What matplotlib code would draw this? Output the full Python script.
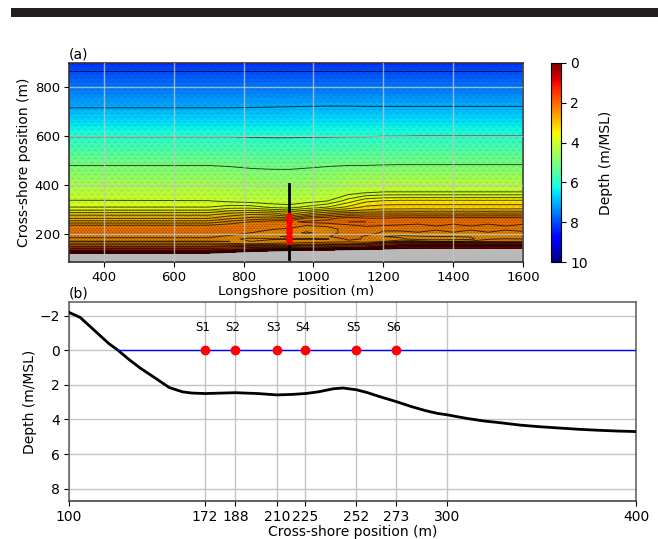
import numpy as np
import matplotlib
matplotlib.use('Agg')
import matplotlib.pyplot as plt
import matplotlib.tri as mtri
from matplotlib.cm import ScalarMappable
from matplotlib.colors import Normalize
from matplotlib.patches import Rectangle

# map of depth, one profile per longshore station
cross_rows = [86, 112, 125, 135, 150, 160, 170, 180, 190, 205, 220, 235, 250, 265, 280, 295, 310, 335, 370, 480, 597, 715, 865, 900]
longshore = [300, 700, 760, 820, 880, 930, 980, 1040, 1100, 1150, 1200, 1250, 1300, 1350, 1400, 1450, 1500, 1550, 1600]

p300 = [-1, -0.4, 0.4, 1.0, 2.0, 2.3, 2.62, 2.45, 2.35, 2.25, 2.25, 2.38, 2.72, 3.02, 3.25, 3.55, 3.8, 3.98, 4.22, 5.0, 6.0, 7.0, 8.0, 8.3]
p700 = [-1, -0.4, 0.4, 1.0, 2.0, 2.3, 2.62, 2.45, 2.35, 2.25, 2.25, 2.38, 2.72, 3.02, 3.25, 3.55, 3.8, 3.99, 4.23, 5.0, 6.0, 7.0, 8.0, 8.3]
p760 = [-1, -0.5, 0.2, 0.9, 1.9, 2.35, 2.6, 2.55, 2.45, 2.3, 2.25, 2.28, 2.55, 2.85, 3.1, 3.4, 3.7, 4.05, 4.3, 5.03, 6.0, 7.0, 8.0, 8.3]
p820 = [-1, -0.6, -0.05, 0.6, 1.8, 2.4, 2.6, 2.65, 2.5, 2.4, 2.25, 2.24, 2.4, 2.75, 3.0, 3.35, 3.7, 4.1, 4.35, 5.08, 6.02, 6.99, 8.0, 8.3]
p880 = [-1, -0.6, -0.1, 0.4, 1.8, 2.35, 2.55, 2.62, 2.42, 2.55, 2.38, 2.25, 2.3, 2.7, 3.05, 3.45, 3.85, 4.13, 4.4, 5.1, 6.03, 6.98, 8.0, 8.3]
p930 = [-1, -0.6, -0.1, 0.3, 1.9, 2.35, 2.5, 2.62, 2.38, 2.55, 2.45, 2.25, 2.25, 2.75, 3.2, 3.5, 3.9, 4.15, 4.42, 5.1, 6.03, 6.97, 8.0, 8.3]
p980 = [-1, -0.6, -0.15, 0.25, 1.7, 2.3, 2.5, 2.6, 2.5, 2.62, 2.55, 2.4, 2.15, 2.4, 2.95, 3.35, 3.75, 4.1, 4.38, 5.07, 6.02, 6.96, 8.0, 8.3]
p1040 = [-1, -0.7, -0.2, 0.2, 1.5, 2.2, 2.5, 2.62, 2.42, 2.55, 2.5, 2.35, 2.1, 2.3, 2.75, 3.15, 3.6, 4.0, 4.3, 5.03, 6.01, 6.95, 8.0, 8.3]
p1100 = [-1, -0.8, -0.3, 0.1, 1.4, 2.2, 2.45, 2.35, 2.25, 2.25, 2.3, 2.25, 2.0, 2.1, 2.55, 3.0, 3.35, 3.7, 4.1, 5.0, 6.0, 6.95, 8.0, 8.3]
p1150 = [-1, -0.8, -0.35, 0.05, 1.2, 2.1, 2.55, 2.42, 2.45, 2.25, 2.35, 2.15, 2.0, 2.2, 2.55, 2.95, 3.15, 3.45, 4.02, 5.0, 6.0, 6.96, 8.0, 8.3]
p1200 = [-1, -0.8, -0.4, 0.0, 0.8, 1.6, 2.4, 2.5, 2.6, 2.45, 2.35, 2.2, 2.05, 2.2, 2.55, 2.9, 3.1, 3.38, 3.98, 4.98, 5.98, 6.96, 8.0, 8.3]
p1250 = [-1, -0.9, -0.4, 0.0, 0.5, 1.2, 2.2, 2.55, 2.65, 2.46, 2.34, 2.22, 2.08, 2.15, 2.55, 2.9, 3.1, 3.35, 3.98, 4.97, 5.98, 6.96, 8.0, 8.3]
p1300 = [-1, -0.9, -0.4, 0.0, 0.4, 1.1, 2.3, 2.7, 2.62, 2.42, 2.3, 2.26, 2.1, 2.15, 2.55, 2.88, 3.1, 3.35, 3.98, 4.97, 5.97, 6.96, 8.0, 8.3]
p1350 = [-1, -0.9, -0.4, 0.0, 0.4, 1.1, 2.4, 2.7, 2.6, 2.46, 2.38, 2.17, 2.1, 2.15, 2.55, 2.9, 3.1, 3.35, 3.98, 4.97, 5.97, 6.96, 8.0, 8.3]
p1400 = [-1, -0.9, -0.4, 0.0, 0.4, 1.1, 2.4, 2.68, 2.6, 2.42, 2.3, 2.26, 2.1, 2.15, 2.55, 2.88, 3.1, 3.35, 3.98, 4.97, 5.97, 6.96, 8.0, 8.3]
p1450 = [-1, -0.9, -0.4, 0.0, 0.4, 1.1, 2.35, 2.66, 2.58, 2.46, 2.38, 2.17, 2.1, 2.15, 2.55, 2.9, 3.1, 3.35, 3.98, 4.97, 5.97, 6.96, 8.0, 8.3]
p1500 = [-1, -0.9, -0.4, 0.0, 0.4, 1.1, 2.3, 2.42, 2.58, 2.42, 2.3, 2.26, 2.1, 2.15, 2.55, 2.88, 3.1, 3.35, 3.98, 4.97, 5.97, 6.96, 8.0, 8.3]
p1550 = [-1, -0.9, -0.4, 0.0, 0.4, 1.1, 2.35, 2.38, 2.56, 2.46, 2.38, 2.17, 2.1, 2.15, 2.55, 2.9, 3.1, 3.35, 3.98, 4.97, 5.97, 6.96, 8.0, 8.3]
p1600 = [-1, -0.9, -0.4, 0.0, 0.4, 1.1, 2.35, 2.4, 2.55, 2.44, 2.34, 2.25, 2.1, 2.15, 2.55, 2.88, 3.1, 3.35, 3.98, 4.97, 5.97, 6.96, 8.0, 8.3]

contour_levels = [0.2, 0.4, 0.6, 0.8, 1, 1.4, 1.8, 2, 2.2, 2.4, 2.6, 2.8, 3, 3.2, 3.4, 3.6, 3.8, 4, 5, 6, 7, 8]

# transect on panel (b)
transect_x = [100, 106, 111, 116, 121, 126, 132, 138, 146, 153, 160, 165, 172, 188, 200, 210, 218, 225, 232, 240, 245, 252, 258, 265, 273, 281, 289, 295, 300, 310, 319, 329, 339, 349, 360, 370, 379, 390, 400]
transect_z = [-2.2, -1.9, -1.4, -0.9, -0.4, 0, 0.55, 1.05, 1.63, 2.15, 2.4, 2.47, 2.5, 2.45, 2.5, 2.58, 2.55, 2.5, 2.4, 2.22, 2.18, 2.28, 2.45, 2.7, 2.96, 3.25, 3.5, 3.65, 3.73, 3.93, 4.08, 4.2, 4.33, 4.42, 4.5, 4.57, 4.62, 4.67, 4.7]

sensor_names = ['S1', 'S2', 'S3', 'S4', 'S5', 'S6']
sensor_pos = [172, 188, 210, 225, 252, 273]
transect_long = 930

W, H = 658, 539
fig = plt.figure(figsize=(W / 100, H / 100), dpi=100)


def box(left, top, right, bottom):
    return [left / W, 1 - bottom / H, (right - left) / W, (bottom - top) / H]


def draw_mesh(ax, xs, ys, step, **kw):
    mesh_x, mesh_y = np.meshgrid(xs, ys)
    mesh_x[1::2] += step / 2
    ax.triplot(mtri.Triangulation(mesh_x.ravel(), mesh_y.ravel()), color='k', zorder=1.1, **kw)


fig.add_artist(Rectangle((11 / W, 1 - 16.5 / H), 1 - 11 / W, 8.5 / H, transform=fig.transFigure, color='#231f20', lw=0))

ax1 = fig.add_axes(box(69, 63, 523, 262))
ax2 = fig.add_axes(box(69, 302, 636, 501))
cax = fig.add_axes(box(550.5, 63, 561, 262))

# panel a
profiles = [p300, p700, p760, p820, p880, p930, p980, p1040, p1100, p1150, p1200, p1250, p1300, p1350, p1400, p1450, p1500, p1550, p1600]
depth = np.array(profiles).T
norm = Normalize(0, 10)
ax1.contourf(longshore, cross_rows, depth, levels=np.linspace(0, 10, 101), cmap='jet_r', norm=norm, antialiased=False, zorder=1)

# the model mesh, coarse offshore and much finer near the shore
draw_mesh(ax1, np.arange(290, 1620, 19.0), np.arange(295, 910, 16.5), 19.0, lw=0.25, alpha=0.14)
draw_mesh(ax1, np.arange(290, 1620, 9.0), np.arange(80, 300, 8.0), 9.0, lw=0.3, alpha=0.3)

ax1.contourf(longshore, cross_rows, depth, levels=[-5, 0], colors='#b9b9b9', zorder=1.2)
ax1.contour(longshore, cross_rows, depth, levels=contour_levels, colors='k', linewidths=0.7, alpha=0.7, zorder=1.3)

ax1.plot([transect_long, transect_long], [98, 404], color='k', lw=2, zorder=3)
ax1.plot([transect_long] * len(sensor_pos), sensor_pos, color='r', lw=3.5, marker='o', ms=4, zorder=4)

ax1.set_xlim(300, 1600)
ax1.set_ylim(86, 898)
ax1.set_xticks([400, 600, 800, 1000, 1200, 1400, 1600])
ax1.set_yticks([200, 400, 600, 800])
ax1.set_axisbelow(False)
ax1.grid(color='#c4c4c4', lw=1, alpha=0.8)
ax1.tick_params(labelsize=9.5, length=3.5, pad=3)
ax1.set_xlabel('Longshore position (m)', fontsize=9.7, labelpad=1)
ax1.set_ylabel('Cross-shore position (m)', fontsize=10, labelpad=3)
ax1.set_title('(a)', loc='left', fontsize=10, pad=3)
for s in ax1.spines.values():
    s.set_color('#333333')
    s.set_linewidth(1.2)

cb = fig.colorbar(ScalarMappable(norm=norm, cmap='jet_r'), cax=cax)
cb.set_ticks([0, 2, 4, 6, 8, 10])
cax.invert_yaxis()
cb.ax.tick_params(labelsize=10, length=3.5, pad=3)
cb.set_label('Depth (m/MSL)', fontsize=10, labelpad=8)

# panel b
ax2.plot(transect_x, transect_z, color='k', lw=2, zorder=3)
ax2.plot([126, 400], [0, 0], color='b', lw=1, zorder=3)
ax2.plot(sensor_pos, [0] * len(sensor_pos), 'o', color='r', ms=6, zorder=4)
for name, pos in zip(sensor_names, sensor_pos):
    ax2.annotate(name, (pos, 0), xytext=(-2, 11.5), textcoords='offset points', ha='center', va='bottom', fontsize=8.5)

ax2.set_xlim(100, 400)
ax2.set_ylim(8.72, -2.8)
ax2.set_xticks([100, 172, 188, 210, 225, 252, 273, 300, 400])
ax2.set_yticks([-2, 0, 2, 4, 6, 8])
ax2.grid(color='#c4c4c4', lw=1)
ax2.tick_params(labelsize=10, length=3.5, pad=3)
ax2.set_xlabel('Cross-shore position (m)', fontsize=10, labelpad=1)
ax2.set_ylabel('Depth (m/MSL)', fontsize=10, labelpad=2)
ax2.set_title('(b)', loc='left', fontsize=10, pad=3)
for k, s in ax2.spines.items():
    s.set_color('#444444' if k == 'bottom' else '#666666')
    s.set_linewidth(1.2)

fig.savefig('out.png', dpi=100)
